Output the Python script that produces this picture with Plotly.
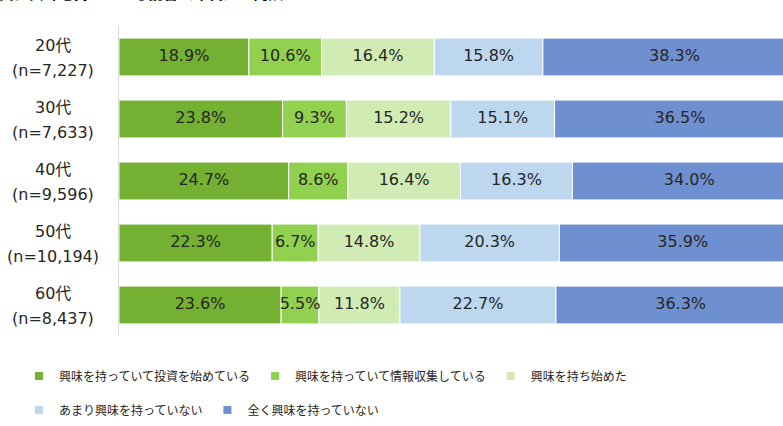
import plotly.graph_objects as go

categories = ["20代", "30代", "40代", "50代", "60代"]
sample_sizes = ["(n=7,227)", "(n=7,633)", "(n=9,596)", "(n=10,194)", "(n=8,437)"]
series_names = [
    "興味を持っていて投資を始めている",
    "興味を持っていて情報収集している",
    "興味を持ち始めた",
    "あまり興味を持っていない",
    "全く興味を持っていない",
]
started = [18.9, 23.8, 24.7, 22.3, 23.6]
collecting = [10.6, 9.3, 8.6, 6.7, 5.5]
beginning = [16.4, 15.2, 16.4, 14.8, 11.8]
little = [15.8, 15.1, 16.3, 20.3, 22.7]
none_at_all = [38.3, 36.5, 34.0, 35.9, 36.3]
title_text = "投資に興味を持っている割合（年代）の内訳"

series_values = [started, collecting, beginning, little, none_at_all]
colors = ["#74B032", "#92D050", "#D0EBB3", "#BDD7EE", "#6F90D0"]

W, H = 783, 426
ML, MR, MT, MB = 119, 0, 26, 90
plot_w = W - ML - MR
plot_h = H - MT - MB
px_per_pct = 6.87
x_max = plot_w / px_per_pct

font_family = "DejaVu Sans, Noto Sans CJK JP, sans-serif"

fig = go.Figure()

cum = [0.0] * len(categories)
for name, vals, col in zip(series_names, series_values, colors):
    fig.add_trace(go.Bar(
        y=categories, x=vals, base=cum[:], orientation="h", name=name,
        marker=dict(color=col, line=dict(color="white", width=1)),
        showlegend=False, hoverinfo="skip",
    ))
    centers = [c + v / 2 for c, v in zip(cum, vals)]
    fig.add_trace(go.Scatter(
        y=categories, x=centers, mode="text",
        text=[f"{v:.1f}%" for v in vals],
        textfont=dict(family=font_family, size=16, color="#262626"),
        showlegend=False, hoverinfo="skip", cliponaxis=False,
    ))
    cum = [c + v for c, v in zip(cum, vals)]

# legend entries (small square markers)
for i, (name, col) in enumerate(zip(series_names, colors)):
    fig.add_trace(go.Scatter(
        x=[None], y=[None], mode="markers", name=name,
        marker=dict(symbol="square", size=8, color=col),
        legend="legend" if i < 3 else "legend2",
    ))

annotations = []
for cat, n in zip(categories, sample_sizes):
    annotations.append(dict(
        x=-66 / plot_w, xref="paper", y=cat, yref="y", text=cat,
        showarrow=False, xanchor="center", yanchor="middle", yshift=12,
        font=dict(family=font_family, size=16, color="#262626"),
    ))
    annotations.append(dict(
        x=-66 / plot_w, xref="paper", y=cat, yref="y", text=n,
        showarrow=False, xanchor="center", yanchor="middle", yshift=-13,
        font=dict(family=font_family, size=16, color="#262626"),
    ))
annotations.append(dict(
    x=(285 - ML) / plot_w, xref="paper", y=1 + (MT - 5) / plot_h, yref="paper",
    text=f"<b>{title_text}</b>", showarrow=False, xanchor="right", yanchor="bottom",
    font=dict(family="Noto Sans CJK JP", size=15, color="#000000"),
))

legend_common = dict(
    orientation="h", xref="container", yref="container",
    xanchor="left", yanchor="middle",
    font=dict(family="Noto Sans CJK JP", size=12, color="#262626"),
    bgcolor="rgba(0,0,0,0)", itemwidth=30, traceorder="normal",
)

fig.update_layout(
    width=W, height=H,
    margin=dict(l=ML, r=MR, t=MT, b=MB, autoexpand=False),
    paper_bgcolor="white", plot_bgcolor="white",
    barmode="overlay", bargap=0.39,
    xaxis=dict(range=[0, x_max], visible=False, fixedrange=True),
    yaxis=dict(
        type="category", categoryorder="array", categoryarray=categories,
        autorange="reversed", showticklabels=False, showgrid=False,
        showline=True, linecolor="#D9D9D9", linewidth=1, ticks="", zeroline=False,
        fixedrange=True,
    ),
    legend=dict(x=19 / W, y=50 / H, **legend_common),
    legend2=dict(x=19 / W, y=16 / H, **legend_common),
    annotations=annotations,
    showlegend=True,
)

fig.write_html(
    "out.html",
    config={"displayModeBar": False},
    post_script="document.body.style.margin='0px';document.body.style.overflow='hidden';",
)
